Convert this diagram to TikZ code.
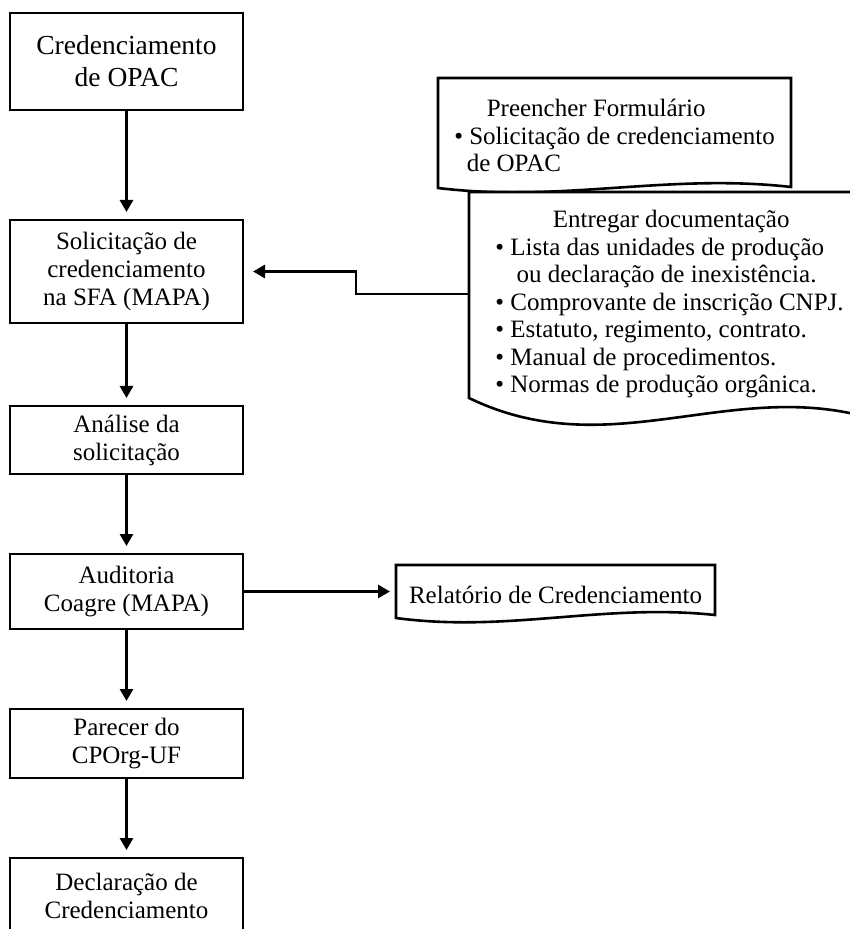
\documentclass[tikz,border=0pt]{standalone}
\usepackage{fontspec}
\setmainfont{Liberation Serif}
\usetikzlibrary{positioning,calc,arrows.meta,backgrounds}

\tikzset{
  stepbox/.style={draw, line width=1.4pt, outer sep=0pt, minimum width=116.5pt,
    align=center, font=\fontsize{12.5}{14}\selectfont},
  doc/.style={align=left, outer sep=0pt, inner sep=0pt, font=\fontsize{12.5}{13.75}\selectfont},
  docline/.style={line width=1.3pt, fill=white},
  arr/.style={-{Triangle[length=6pt,width=6.5pt]}, line width=1.4pt, shorten >=4pt},
}

\begin{document}
\begin{tikzpicture}[x=0.5pt,y=-0.5pt]
 \useasboundingbox (0,0) rectangle (849,929);
 \node[stepbox, minimum height=48.5pt, font=\fontsize{13.75}{16}\selectfont] (cred) at (126.5,61.5) {Credenciamento\\de OPAC};
 \node[stepbox, minimum height=51.5pt, below=55pt of cred] (solic) {Solicitação de\\credenciamento\\na SFA (MAPA)};
 \node[stepbox, minimum height=34pt, below=41.5pt of solic] (anal) {Análise da\\solicitação};
 \node[stepbox, minimum height=37.5pt, below=40pt of anal] (audit) {Auditoria\\Coagre (MAPA)};
 \node[stepbox, minimum height=34.5pt, below=40pt of audit] (parecer) {Parecer do\\CPOrg-UF};
 \node[stepbox, minimum height=38pt, below=40pt of parecer] (decl) {Declaração de\\Credenciamento};

 \node[doc, minimum width=176.5pt, minimum height=57.5pt] (form) at (614.5,135.5)
  {\hspace*{1.3em}Preencher Formulário\\•~Solicitação de credenciamento\\\hspace*{0.5em}de OPAC};
 \node[doc, minimum width=200.5pt, minimum height=112.5pt] (docs) at (669.5,304.5)
  {\hspace*{2.3em}Entregar documentação\\
   •~Lista das unidades de produção\\
   \hspace*{0.85em}ou declaração de inexistência.\\
   •~Comprovante de inscrição CNPJ.\\
   •~Estatuto, regimento, contrato.\\
   •~Manual de procedimentos.\\
   •~Normas de produção orgânica.};
 \node[doc, minimum width=159.5pt, minimum height=30pt] (rel) at (555.5,595) {Relatório de Credenciamento};

 \begin{scope}[on background layer]
  \foreach \n/\lift/\ca/\cb/\ce in {form/-5/15/-15/-1, docs/-19/68/-20/20, rel/-7/15/-15/-3}{
   \draw[docline] ($(\n.south west)+(0,\lift)$) -- (\n.north west) -- (\n.north east)
     -- ($(\n.south east)+(0,\lift+\ce)$)
     .. controls ($(\n.south west)!0.65!(\n.south east)+(0,\lift+\cb)$)
     and ($(\n.south west)!0.35!(\n.south east)+(0,\lift+\ca)$)
     .. ($(\n.south west)+(0,\lift)$) -- cycle;
  }
 \end{scope}

 \foreach \a/\b in {cred/solic, solic/anal, anal/audit, audit/parecer, parecer/decl}
  \draw[arr] (\a) -- (\b);
 \draw[arr, shorten >=3pt] (audit) -- (audit -| rel.west);
 \draw[arr, shorten >=5pt] ([yshift=5.25pt]docs.west) -- ++(-113,0) |- (solic.east);
\end{tikzpicture}
\end{document}
